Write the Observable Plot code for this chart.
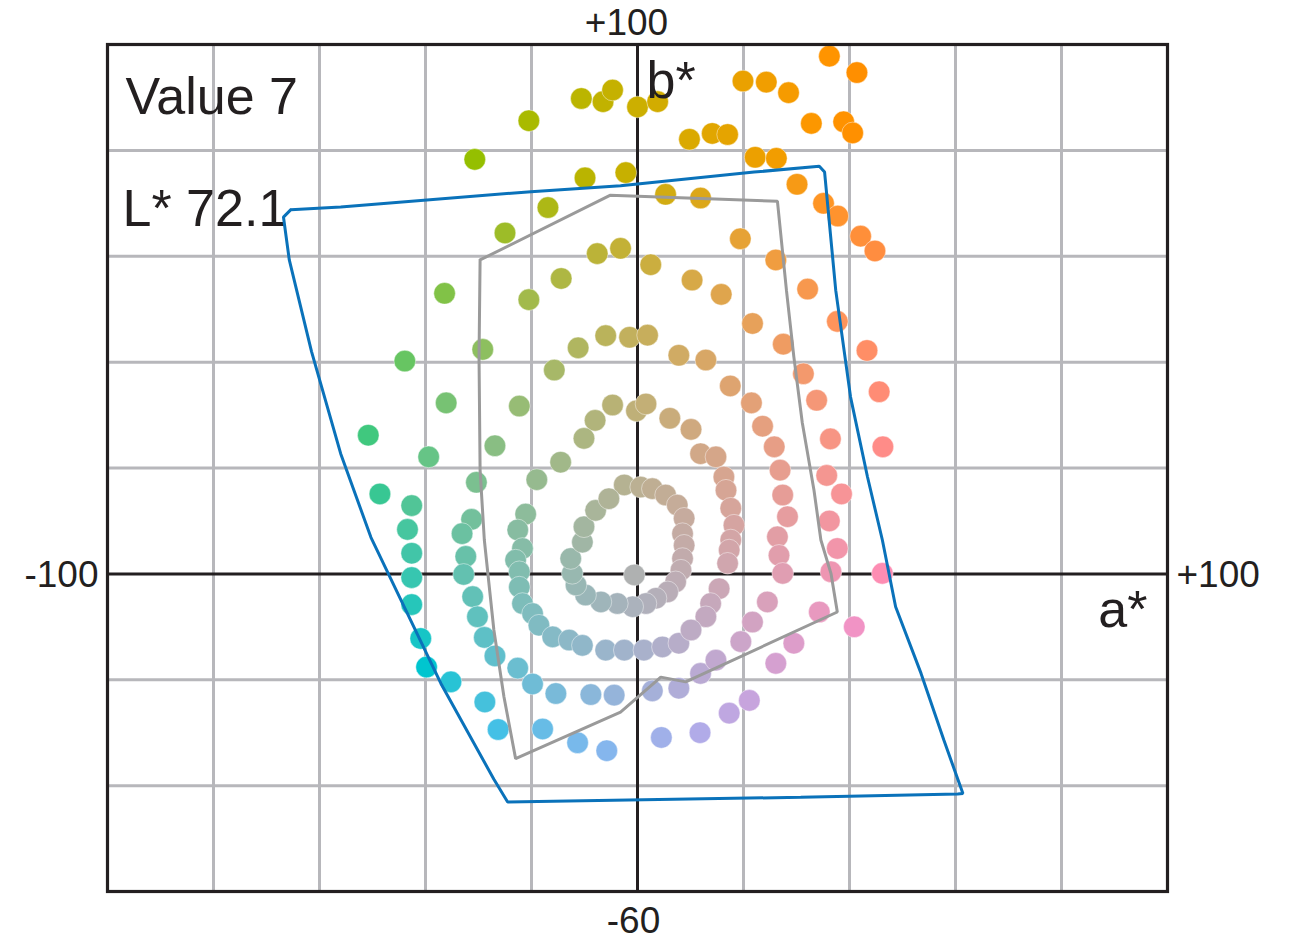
<!DOCTYPE html>
<html><head><meta charset="utf-8">
<script src="https://cdn.jsdelivr.net/npm/d3@7"></script>
<script src="https://cdn.jsdelivr.net/npm/@observablehq/plot@0.6"></script>
<style>html,body{margin:0;padding:0;background:#fff}svg{display:block}</style>
</head><body><div id="chart"></div>
<script>
// ---- data (CIELAB a*, b* of Munsell chips at Value 7) ----
const valueLabel = "Value 7";
const lightness = 72.1;
const lightnessLabel = "L* 72.1";
const chipA = [
36.2, 41.4, 19.9, 24.3, 28.5, -10.6, -6.5, -4.7, 0.0, 3.8,
-20.5, 32.8, 38.9, 40.6, 9.8, 14.1, 17.0, -30.7, 22.2, 26.2,
-2.2, -9.9, 30.1, 5.3, 11.9, -16.9, 35.1, 37.8, -25.0, 19.4,
42.1, 44.8, -7.6, -3.2, 2.5, 26.1, -14.4, 10.3, 15.8, 32.1,
-36.4, -20.5, 21.7, 37.7, -43.9, -29.2, -11.2, -6.0, -1.5, 1.9,
7.8, 12.9, 27.5, 43.3, -15.7, 17.5, 31.3, 45.6, -36.1, -22.3,
-4.7, -0.2, 1.6, 21.5, 33.8, -8.0, 6.1, 10.1, -50.8, -26.9,
-10.1, 23.6, 36.4, 46.3, -39.4, -14.5, 11.9, 14.8, 25.8, -30.4,
-19.0, 16.3, 26.9, 35.7, -48.6, -42.6, 16.7, 27.4, 38.5, -31.3,
-21.1, 17.6, 28.3, 36.2, -43.4, -33.1, -22.6, 18.2, 26.4, 37.7,
-42.6, -32.4, -21.7, 17.6, 17.3, 26.7, -42.6, -32.8, -23.0, -22.3,
17.0, 27.4, 36.5, 46.2, -42.6, -31.1, -22.3, 15.4, 24.5, 34.3,
-40.9, -30.2, -21.7, -19.8, 13.8, 12.9, 21.7, 40.9, -39.8, -28.9,
-18.6, -16.0, -12.9, -10.4, -6.0, -2.5, 1.2, 4.7, 7.8, 10.1,
19.5, 29.5, -35.2, -26.9, -22.6, -19.8, -15.4, -8.8, -4.4, 2.8,
7.8, 11.9, 14.8, 26.1, -28.8, 21.1, -26.3, -17.9, -11.3, -5.8,
4.5, 11.8, 17.3,
-2.5, 0.6, 2.8, 5.3, 7.5, 8.8, 8.5, 8.8, 8.5, 8.2,
7.2, 5.7, 3.5, 1.6, -0.9, -3.8, -6.9, -9.8, -11.6, -12.3,
-12.6, -10.4, -10.1, -7.9, -5.4,
-0.6
];
const chipB = [
97.8, 94.7, 93.1, 92.9, 90.9, 89.8, 89.2, 91.4, 88.2, 89.2,
85.6, 85.1, 85.4, 83.3, 82.1, 83.2, 83.0, 78.3, 78.7, 78.5,
75.8, 74.8, 73.6, 71.7, 71.0, 69.2, 70.0, 67.6, 64.4, 63.3,
63.8, 61.0, 60.5, 61.5, 58.4, 59.3, 55.8, 55.5, 52.8, 53.8,
53.0, 51.8, 47.3, 47.7, 40.2, 42.4, 42.7, 45.0, 44.7, 45.1,
41.3, 40.4, 43.4, 42.2, 38.5, 35.5, 37.8, 34.4, 32.3, 31.7,
31.9, 30.8, 32.1, 32.3, 32.8, 29.0, 29.4, 27.3, 26.2, 24.2,
25.6, 27.9, 25.5, 24.0, 22.1, 21.1, 22.7, 22.1, 24.0, 17.3,
17.8, 18.3, 19.6, 18.6, 15.1, 12.9, 15.8, 14.9, 15.1, 10.3,
11.3, 12.4, 10.8, 10.0, 8.4, 7.6, 8.3, 9.2, 7.0, 4.8,
3.9, 3.3, 4.8, 6.4, 4.5, 3.5, -0.7, -0.1, 2.6, 0.4,
2.0, 0.1, 0.4, 0.1, -5.8, -4.3, -2.5, -2.8, -5.3, -7.2,
-12.2, -8.1, -5.6, -7.5, -5.6, -8.1, -9.1, -10.0, -17.6, -12.0,
-9.7, -11.9, -12.5, -13.5, -14.4, -14.4, -14.4, -13.8, -13.1, -10.6,
-12.8, -13.1, -20.4, -15.5, -17.8, -20.8, -22.6, -22.8, -22.9, -22.1,
-21.6, -18.8, -16.3, -16.9, -24.2, -23.9, -29.4, -29.3, -31.9, -33.4,
-30.9, -30.0, -26.3,
16.8, 16.4, 16.1, 14.9, 13.0, 10.5, 7.6, 5.4, 2.9, 0.7,
-1.5, -3.4, -4.6, -5.6, -6.2, -5.6, -5.3, -4.0, -2.1, 0.1,
2.9, 6.0, 8.9, 12.0, 14.2,
-0.2
];
// inner gamut outline (gray)
const grayGamutA = [-29.7, -5.2, 26.4, 28.1, 29.5, 31.1, 33.3, 34.6, 36.5, 37.7, 9.1, 4.4, -3.2, -23.0, -25.2, -27.1, -28.9, -29.7, -29.9];
const grayGamutB = [59.3, 71.5, 70.4, 53.6, 41.0, 28.5, 15.8, 6.4, 0.1, -7.2, -20.4, -19.5, -26.1, -34.9, -23.2, -10.6, 6.4, 19.6, 41.0];
// outer gamut outline (blue)
const blueGamutA = [-65.4, -56.0, -20.1, -3.2, 22.0, 34.3, 35.3, 37.4, 40.2, 43.4, 46.2, 48.7, 53.5, 57.8, 61.4, 60.4, 30.8, -24.5, -27.1, -37.1, -43.4, -50.3, -56.0, -61.5, -65.7, -66.8];
const blueGamutB = [68.8, 69.3, 72.2, 73.3, 75.9, 77.0, 75.9, 53.6, 33.4, 18.3, 6.4, -6.2, -18.8, -31.4, -41.5, -41.6, -42.2, -43.1, -38.8, -20.7, -7.5, 6.9, 22.7, 42.0, 59.3, 67.4];
// grid & tick labels
const gridA = [-80, -60, -40, -20, 20, 40, 60, 80];
const gridB = [-40, -20, 20, 40, 60, 80];
const aTickValues = [-100, 100];
const aTickLabels = ["-100", "+100"];
const bTickValues = [100, -60];
const bTickLabels = ["+100", "-60"];

// ---- build tables ----
const chips = chipA.map((a, i) => ({a, b: chipB[i]}));
const closeRing = (A, B) => [...A.map((a, i) => ({a, b: B[i]})), {a: A[0], b: B[0]}];
const grayGamut = closeRing(grayGamutA, grayGamutB);
const blueGamut = closeRing(blueGamutA, blueGamutB);
const aTicks = aTickValues.map((v, i) => ({v, label: aTickLabels[i]}));
const bTicks = bTickValues.map((v, i) => ({v, label: bTickLabels[i]}));

const font = "'Liberation Sans', Arial, Helvetica, sans-serif";
const ink = "#231f20";
const gridColor = "#b7b7bb";
const tickSize = 37;

const chart = Plot.plot({
  width: 1300,
  height: 942,
  marginLeft: 107,
  marginRight: 133,
  marginTop: 44,
  marginBottom: 51,
  x: {domain: [-100, 100], axis: null},
  y: {domain: [-60, 100], axis: null},
  style: {fontFamily: font, background: "#fff", color: ink},
  marks: [
    Plot.ruleX(gridA, {stroke: gridColor, strokeWidth: 3}),
    Plot.ruleY(gridB, {stroke: gridColor, strokeWidth: 3}),
    Plot.ruleX([0], {stroke: ink, strokeWidth: 3}),
    Plot.ruleY([0], {stroke: ink, strokeWidth: 3}),
    Plot.text([valueLabel], {frameAnchor: "top-left", text: d => d, textAnchor: "start", lineAnchor: "bottom", dx: 18, dy: 69, fontSize: 52, fill: ink}),
    Plot.text([lightnessLabel], {frameAnchor: "top-left", text: d => d, textAnchor: "start", lineAnchor: "bottom", dx: 15, dy: 181, fontSize: 52, fill: ink}),
    Plot.dot(chips, {
      x: "a", y: "b", r: 10.8,
      fill: d => d3.lab(lightness, d.a, d.b).formatHex(),
      stroke: "white", strokeWidth: 0.8, strokeOpacity: 0.55
    }),
    Plot.line(grayGamut, {x: "a", y: "b", stroke: "#9a9a9a", strokeWidth: 3, strokeLinejoin: "miter"}),
    Plot.line(blueGamut, {x: "a", y: "b", stroke: "#0a72ba", strokeWidth: 3, strokeLinejoin: "miter", curve: "linear"}),
    Plot.frame({stroke: ink, strokeWidth: 3.2}),
    Plot.text(["b*"], {frameAnchor: "top", text: d => d, textAnchor: "start", lineAnchor: "bottom", dx: 9, dy: 53, fontSize: 52, fill: ink}),
    Plot.text(["a*"], {frameAnchor: "right", text: d => d, textAnchor: "end", lineAnchor: "bottom", dx: -20, dy: 159, fontSize: 52, fill: ink}),
    // a* tick labels (left / right of the frame)
    Plot.text(aTicks, {filter: d => d.v < 0, x: "v", y: () => 0, text: "label", textAnchor: "end", lineAnchor: "middle", dx: -9, dy: 1, fontSize: tickSize, fill: ink}),
    Plot.text(aTicks, {filter: d => d.v > 0, x: "v", y: () => 0, text: "label", textAnchor: "start", lineAnchor: "middle", dx: 9, dy: 1, fontSize: tickSize, fill: ink}),
    // b* tick labels (above / below the frame)
    Plot.text(bTicks, {filter: d => d.v > 0, x: () => 0, y: "v", text: "label", textAnchor: "middle", lineAnchor: "bottom", dx: -11, dy: -10, fontSize: tickSize, fill: ink}),
    Plot.text(bTicks, {filter: d => d.v < 0, x: () => 0, y: "v", text: "label", textAnchor: "middle", lineAnchor: "bottom", dx: -4, dy: 41, fontSize: tickSize, fill: ink})
  ]
});
document.getElementById("chart").appendChild(chart);

// white boxes behind the two corner labels (hide the grid behind them)
for (const label of [valueLabel, lightnessLabel]) {
  d3.select(chart).selectAll("text").filter(function() { return this.textContent === label; }).each(function() {
    const bb = this.getBBox();
    const g = this.parentNode;
    const rect = document.createElementNS("http://www.w3.org/2000/svg", "rect");
    rect.setAttribute("x", bb.x - 8);
    rect.setAttribute("y", bb.y - 7);
    rect.setAttribute("width", bb.width + 16);
    rect.setAttribute("height", bb.height + 18);
    rect.setAttribute("fill", "#fff");
    g.parentNode.insertBefore(rect, g);
  });
}
</script>
</body></html>
